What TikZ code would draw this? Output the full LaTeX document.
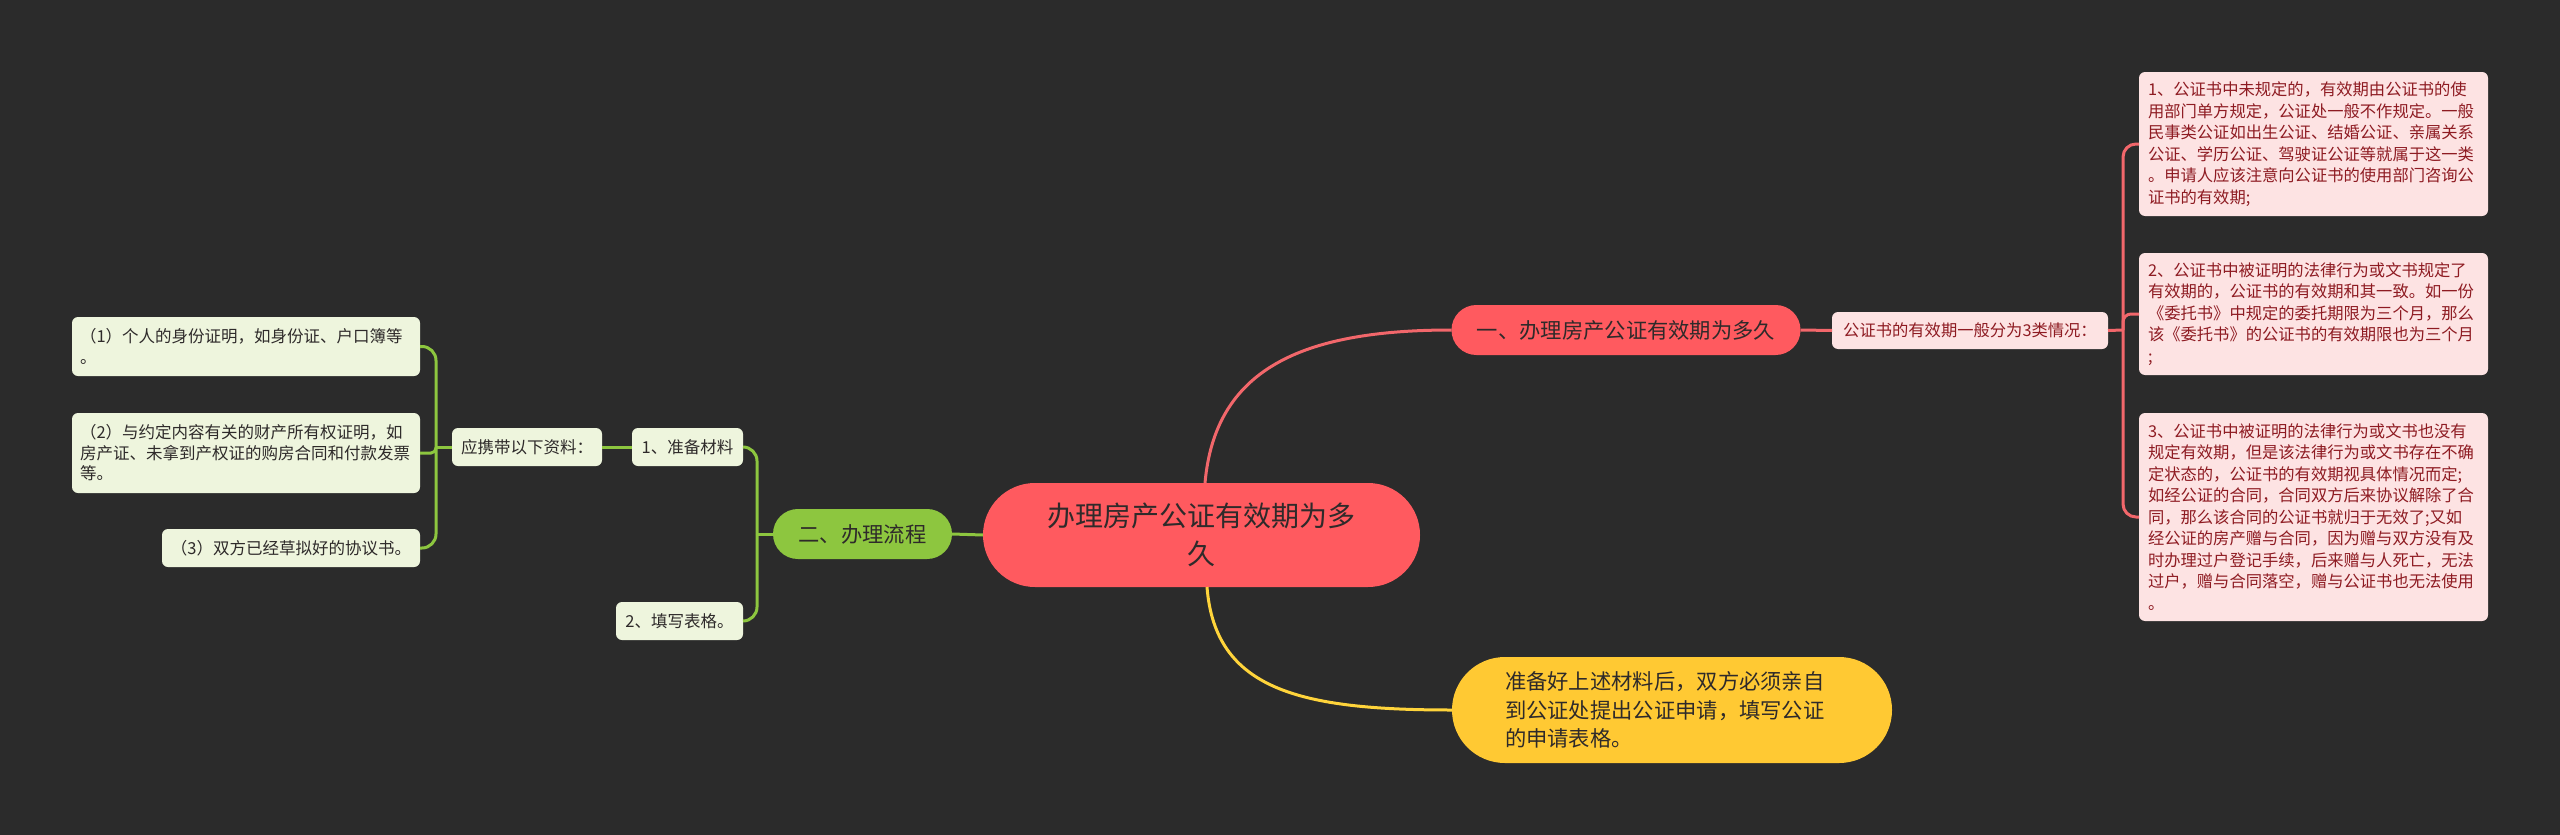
\documentclass[tikz,border=0pt]{standalone}
\usepackage{fontspec}
\setmainfont{Noto Sans CJK SC}
\definecolor{bg}{HTML}{2B2B2B}
\definecolor{mred}{HTML}{FF5A5F}
\definecolor{mredline}{HTML}{F2676B}
\definecolor{pinkfill}{HTML}{FDE3E3}
\definecolor{pinktext}{HTML}{8E1B22}
\definecolor{mgreen}{HTML}{8DC63F}
\definecolor{greenfill}{HTML}{EEF5DD}
\definecolor{myellow}{HTML}{FFC933}
\definecolor{yline}{HTML}{FFD43B}
\definecolor{darktext}{HTML}{2E2A2A}
\begin{document}
\begin{tikzpicture}[x=1pt,y=-1pt,
  every node/.style={inner sep=0pt, outer sep=0pt},
  pill/.style={minimum height=#1, rounded corners=#1/2-0.1},
  smallbox/.style={rounded corners=6pt},
  redbranch/.style={draw=mredline, line width=3pt},
  greenbranch/.style={draw=mgreen, line width=3pt},
  yellowbranch/.style={draw=yline, line width=3pt},
  pinkbox/.style={smallbox, fill=pinkfill, text=pinktext, font=\fontsize{16.3}{21.5}\selectfont},
  greenbox/.style={smallbox, fill=greenfill, text=darktext, font=\fontsize{16.5}{20.5}\selectfont}
]
\fill[bg] (0,0) rectangle (2560,835);
\useasboundingbox (0,0) rectangle (2560,835);

% ---------- nodes ----------
\node[pill=104, fill=mred, minimum width=437, text=darktext, align=center,
      font=\fontsize{28}{38}\selectfont] (root) at (1201.5,535) {办理房产公证有效期为多\\久};

\node[pill=50, fill=mred, minimum width=349, text=darktext,
      font=\fontsize{21.3}{28}\selectfont] (b1) at (1626,330) {一、办理房产公证有效期为多久};

\node[pinkbox, minimum width=276, minimum height=37] (b1a) at (1970,330.5) {公证书的有效期一般分为3类情况：};

\node[pinkbox, minimum width=349, minimum height=144, text width=331, align=left] (p1) at (2313.5,144)
  {1、公证书中未规定的，有效期由公证书的使\\用部门单方规定，公证处一般不作规定。一般\\民事类公证如出生公证、结婚公证、亲属关系\\公证、学历公证、驾驶证公证等就属于这一类\\。申请人应该注意向公证书的使用部门咨询公\\证书的有效期;};

\node[pinkbox, minimum width=349, minimum height=122, text width=331, align=left] (p2) at (2313.5,314)
  {2、公证书中被证明的法律行为或文书规定了\\有效期的，公证书的有效期和其一致。如一份\\《委托书》中规定的委托期限为三个月，那么\\该《委托书》的公证书的有效期限也为三个月\\;};

\node[pinkbox, minimum width=349, minimum height=208, text width=331, align=left] (p3) at (2313.5,517)
  {3、公证书中被证明的法律行为或文书也没有\\规定有效期，但是该法律行为或文书存在不确\\定状态的，公证书的有效期视具体情况而定;\\如经公证的合同，合同双方后来协议解除了合\\同，那么该合同的公证书就归于无效了;又如\\经公证的房产赠与合同，因为赠与双方没有及\\时办理过户登记手续，后来赠与人死亡，无法\\过户，赠与合同落空，赠与公证书也无法使用\\。};

\node[pill=106, fill=myellow, minimum width=440, text=darktext, text width=334, align=left,
      font=\fontsize{21.3}{28.5}\selectfont] (b3) at (1672,710)
  {准备好上述材料后，双方必须亲自\\到公证处提出公证申请，填写公证\\的申请表格。};

\node[pill=50, fill=mgreen, minimum width=179, text=darktext,
      font=\fontsize{21.3}{28}\selectfont] (b2) at (862.5,534) {二、办理流程};

\node[greenbox, minimum width=111, minimum height=38] (s1) at (687.5,447) {1、准备材料};
\node[greenbox, minimum width=127, minimum height=38] (s2) at (679.5,621) {2、填写表格。};
\node[greenbox, minimum width=150, minimum height=38] (s1a) at (527,447) {应携带以下资料：};

\node[greenbox, minimum width=348, minimum height=59, text width=332, align=left] (g1) at (246,346.5)
  {（1）个人的身份证明，如身份证、户口簿等\\。};
\node[greenbox, minimum width=348, minimum height=80, text width=332, align=left] (g2) at (246,453)
  {（2）与约定内容有关的财产所有权证明，如\\房产证、未拿到产权证的购房合同和付款发票\\等。};
\node[greenbox, minimum width=258, minimum height=38, align=center] (g3) at (291,548)
  {（3）双方已经草拟好的协议书。};

% ---------- junction coordinates ----------
\coordinate (jR) at (2123,330);
\coordinate (jS) at (757,534);
\coordinate (jL) at (436,447);

% ---------- connectors ----------
\begin{scope}[on background layer/.try]
\end{scope}
\draw[redbranch] (root.north west) ++(222,0) coordinate (rtop)
  .. controls (1215,370) and (1300,330) .. (b1.west);
\draw[yellowbranch] (root.south west) ++(224,0) coordinate (rbot)
  .. controls (1215,690) and (1300,710) .. (b3.west);
\draw[greenbranch] (root.west) -- (b2.east);

\draw[redbranch] (b1.east) -- (b1a.west);
\draw[redbranch] (b1a.east) -- (jR);
\draw[redbranch, rounded corners=13pt] (jR) |- (p1.west);
\draw[redbranch, rounded corners=8pt] (jR) |- (p2.west);
\draw[redbranch, rounded corners=13pt] (jR) |- (p3.west);

\draw[greenbranch] (b2.west) -- (jS);
\draw[greenbranch, rounded corners=14pt] (jS) |- (s1.east);
\draw[greenbranch, rounded corners=14pt] (jS) |- (s2.east);

\draw[greenbranch] (s1.west) -- (s1a.east);
\draw[greenbranch] (s1a.west) -- (jL);
\draw[greenbranch, rounded corners=14pt] (jL) |- (g1.east);
\draw[greenbranch, rounded corners=5pt] (jL) |- (g2.east);
\draw[greenbranch, rounded corners=14pt] (jL) |- (g3.east);
\end{tikzpicture}
\end{document}
